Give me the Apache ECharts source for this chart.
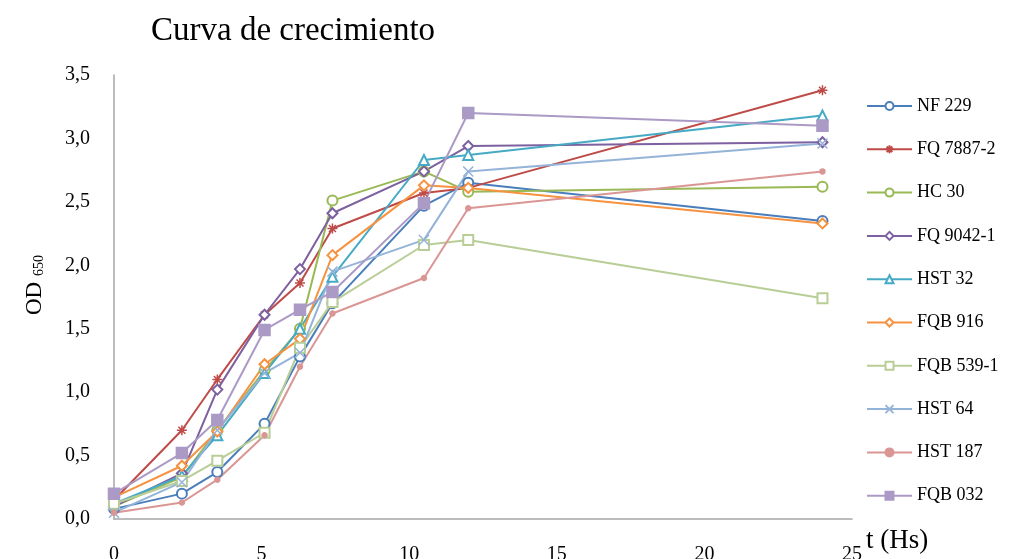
<!DOCTYPE html>
<html>
<head>
<meta charset="utf-8">
<script src="https://cdn.jsdelivr.net/npm/echarts@6/dist/echarts.min.js"></script>
<style>
  html, body { margin: 0; padding: 0; background: #fff; }
  #chart { width: 1018px; height: 559px; }
</style>
</head>
<body>
<div id="chart"></div>
<script>
// horas de muestreo
const times = [0, 2.3, 3.5, 5.1, 6.3, 7.4, 10.5, 12, 24];

const nf229    = [0.08, 0.20, 0.37, 0.75, 1.28, 1.70, 2.47, 2.65, 2.35];
const fq7887   = [0.15, 0.70, 1.10, 1.61, 1.86, 2.29, 2.57, 2.61, 3.38];
const hc30     = [0.10, 0.33, 0.70, 1.17, 1.50, 2.51, 2.74, 2.58, 2.62];
const fq9042   = [0.10, 0.36, 1.02, 1.61, 1.97, 2.41, 2.74, 2.94, 2.97];
const hst32    = [0.12, 0.34, 0.66, 1.15, 1.50, 1.91, 2.83, 2.87, 3.18];
const fqb916   = [0.17, 0.42, 0.69, 1.22, 1.42, 2.08, 2.63, 2.61, 2.33];
const fqb539   = [0.12, 0.30, 0.46, 0.68, 1.35, 1.71, 2.16, 2.20, 1.74];
const hst64    = [0.05, 0.29, 0.70, 1.15, 1.31, 1.95, 2.20, 2.74, 2.96];
const hst187   = [0.05, 0.13, 0.31, 0.66, 1.20, 1.62, 1.90, 2.45, 2.74];
const fqb032   = [0.20, 0.52, 0.78, 1.49, 1.65, 1.79, 2.49, 3.20, 3.10];

const yTicks = ['0,0', '0,5', '1,0', '1,5', '2,0', '2,5', '3,0', '3,5'];

const serif = '"Liberation Serif", "DejaVu Serif", serif';
const asterisk = 'path://M0,5L10,5M5,0L5,10M1.5,1.5L8.5,8.5M8.5,1.5L1.5,8.5';
const cross = 'path://M0,0L10,10M10,0L0,10';

const pairs = vals => vals.map((v, i) => [times[i], v]);

const mk = (name, vals, color, symbol, size, extra) => Object.assign({
  name: name,
  type: 'line',
  data: pairs(vals),
  symbol: symbol,
  symbolSize: size,
  showAllSymbol: true,
  lineStyle: { color: color, width: 2 },
  itemStyle: { color: color, borderColor: color, borderWidth: 1.5 },
  emphasis: { disabled: true },
  z: 2
}, extra || {});

const series = [
  mk('NF 229', nf229, '#4a7ebb', 'emptyCircle', 10),
  mk('FQ 7887-2', fq7887, '#be4b48', asterisk, 10),
  mk('HC 30', hc30, '#98b954', 'emptyCircle', 10),
  mk('FQ 9042-1', fq9042, '#7d60a0', 'emptyDiamond', 10),
  mk('HST 32', hst32, '#46aac5', 'emptyTriangle', 10),
  mk('FQB 916', fqb916, '#f69240', 'emptyDiamond', 10, { itemStyle: { color: '#f69240', borderColor: '#f69240', borderWidth: 2.5 } }),
  mk('FQB 539-1', fqb539, '#b9cd96', 'emptyRect', 10),
  mk('HST 64', hst64, '#94b3d8', cross, 10),
  mk('HST 187', hst187, '#da9694', 'circle', 5),
  mk('FQB 032', fqb032, '#ab9ac6', 'rect', 11)
];

const chart = echarts.init(document.getElementById('chart'));
chart.setOption({
  animation: false,
  backgroundColor: '#fff',
  title: {
    text: 'Curva de crecimiento',
    left: 146, top: 10,
    textStyle: { fontFamily: serif, fontSize: 33, fontWeight: 'normal', color: '#000' }
  },
  grid: { left: 114, right: 166, top: 75, bottom: 40, containLabel: false, outerBoundsMode: 'none' },
  legend: {
    orient: 'vertical',
    left: 861, top: 92,
    itemWidth: 45, itemHeight: 10, itemGap: 25.3,
    textStyle: { fontFamily: serif, fontSize: 18, color: '#000' },
    data: series.map(s => s.name)
  },
  xAxis: {
    type: 'value',
    min: 0, max: 25, interval: 5,
    axisLine: { lineStyle: { color: '#a6a6a6', width: 1.5 } },
    axisTick: { show: false },
    splitLine: { show: false },
    axisLabel: { margin: 26, fontFamily: serif, fontSize: 20, color: '#000' }
  },
  yAxis: {
    type: 'value',
    min: 0, max: 3.5, interval: 0.5,
    name: 'OD {sub|650}',
    nameLocation: 'middle',
    nameGap: 68,
    nameRotate: 90,
    nameTextStyle: {
      fontFamily: serif, fontSize: 23, color: '#000',
      padding: [0, 0, 0, 24],
      rich: { sub: { fontFamily: serif, fontSize: 14, color: '#000', verticalAlign: 'bottom', padding: [8, 0, 0, 0] } }
    },
    axisLine: { show: true, lineStyle: { color: '#a6a6a6', width: 1.5 } },
    axisTick: { show: false },
    splitLine: { show: false },
    axisLabel: {
      margin: 24, fontFamily: serif, fontSize: 20, color: '#000',
      formatter: v => yTicks[Math.round(v / 0.5)]
    }
  },
  graphic: [{
    type: 'text',
    left: 866, top: 527,
    style: { text: 't (Hs)', font: '27px ' + serif, fill: '#000' }
  }],
  series: series
});
</script>
</body>
</html>
